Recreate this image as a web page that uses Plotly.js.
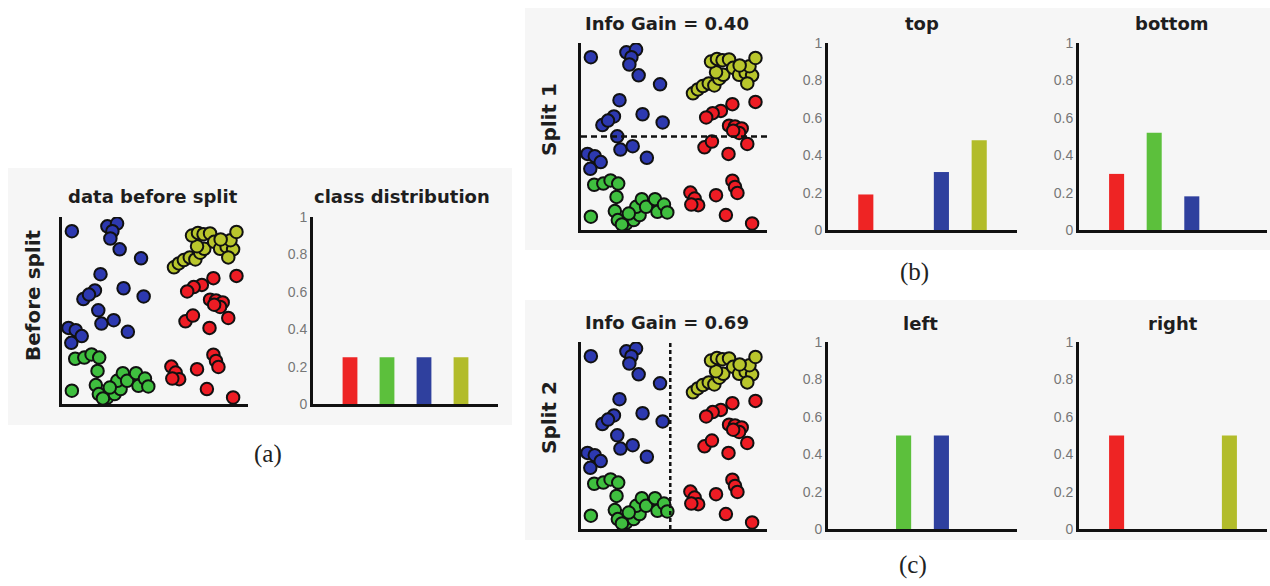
<!DOCTYPE html>
<html>
<head>
<meta charset="utf-8">
<script src="https://cdn.plot.ly/plotly-3.0.1.min.js"></script>
<style>html,body{margin:0;padding:0;background:#fff}#chart{width:1270px;height:586px}</style>
</head>
<body>
<div id="chart"></div>
<script>
// ---- scatter data (same points in all three scatter panels), 0..100 scale ----
const blueX = [5.3,24.4,29.6,27.1,26.0,31.0,42.5,20.7,33.1,43.9,17.7,11.5,14.5,19.5,21.2,27.8,35.4,3.5,7.4,10.6,5.0];
const blueY = [92.4,95.0,96.5,92.4,88.5,82.7,77.9,69.4,61.9,57.5,60.7,56.1,58.5,50.1,43.0,44.8,38.6,40.7,39.5,36.3,32.7];
const greenX = [7.1,12.0,15.9,20.0,19.1,5.3,18.2,19.8,24.4,28.3,31.5,29.7,32.7,35.0,39.8,41.1,44.6,46.4,25.7,22.0];
const greenY = [24.2,24.8,26.5,24.8,17.7,7.1,10.1,5.3,3.5,5.3,8.0,12.4,16.5,12.4,16.5,9.7,13.6,9.4,8.8,3.0];
const yellowX = [60.2,62.8,65.5,68.7,71.7,74.3,76.5,72.6,69.9,73.1,76.1,79.6,81.8,85.0,88.5,92.0,90.6,93.8,89.4,85.3];
const yellowY = [73.1,75.2,77.0,78.4,77.3,80.9,83.0,84.4,90.1,91.5,90.8,91.2,86.7,83.0,84.1,82.7,87.6,92.0,78.4,88.0];
const redX = [93.8,81.4,75.2,70.8,67.3,79.6,82.8,86.4,85.0,81.8,89.4,66.4,70.4,79.3,81.4,82.8,84.1,72.6,58.8,61.1,63.0,59.3,77.9,92.0];
const redY = [68.5,67.3,63.7,62.5,60.2,55.8,55.4,54.3,51.9,53.1,46.0,44.2,47.3,40.7,26.4,23.0,19.8,18.6,20.0,16.8,13.3,13.6,8.0,3.5];

// split thresholds
const split1Y = 50;   // horizontal split (top / bottom)
const split2X = 48;   // vertical split (left / right)

// ---- class distributions ----
const classNames = ['red','green','blue','yellow'];
const classPos = [1,2,3,4];
const distBefore = [0.25,0.25,0.25,0.25];
const distTop    = [0.19,0,0.31,0.48];
const distBottom = [0.30,0.52,0.18,0];
const distLeft   = [0,0.5,0.5,0];
const distRight  = [0.5,0,0,0.5];
const yTicks = [0,0.2,0.4,0.6,0.8,1];
const yTickText = ['0','0.2','0.4','0.6','0.8','1'];

const ptColors = {blue:'#2d39b0', green:'#3fbf3f', yellow:'#b9c62c', red:'#ee1c24'};
const barColors = ['#ee2424','#5cc03c','#2f409e','#b2bc2a'];

const W = 1270, H = 586;
const px = v => v / W;
const py = v => 1 - v / H;

const traces = [];
function scatterSet(xa, ya) {
  const sets = [['blue',blueX,blueY],['green',greenX,greenY],['yellow',yellowX,yellowY],['red',redX,redY]];
  sets.forEach(([c,xs,ys]) => {
    traces.push({type:'scatter', mode:'markers', x:xs, y:ys, xaxis:xa, yaxis:ya,
      marker:{size:12.5, color:ptColors[c], line:{color:'#111', width:2}}, hoverinfo:'skip', showlegend:false});
  });
}
function barSet(xa, ya, vals) {
  traces.push({type:'bar', x:classPos, y:vals, xaxis:xa, yaxis:ya, width:0.4,
    marker:{color:barColors, line:{width:0}}, text:classNames, textposition:'none', hoverinfo:'skip', showlegend:false});
}

scatterSet('x','y');
barSet('x2','y2', distBefore);
scatterSet('x3','y3');
traces.push({type:'scatter', mode:'lines', x:[0,100], y:[split1Y,split1Y], xaxis:'x3', yaxis:'y3',
  line:{color:'#111', width:2.5, dash:'6px,4px'}, hoverinfo:'skip', showlegend:false});
barSet('x4','y4', distTop);
barSet('x5','y5', distBottom);
scatterSet('x6','y6');
traces.push({type:'scatter', mode:'lines', x:[split2X,split2X], y:[0,100], xaxis:'x6', yaxis:'y6',
  line:{color:'#111', width:2.5, dash:'4px,3px'}, hoverinfo:'skip', showlegend:false});
barSet('x7','y7', distLeft);
barSet('x8','y8', distRight);

const base = {showgrid:false, zeroline:false, showline:true, linecolor:'#111', linewidth:3, ticks:'', fixedrange:true};
function scatAxes(n, x0, x1, yTop, yBot) {
  const s = n === 1 ? '' : String(n);
  return {
    ['xaxis'+s]: Object.assign({}, base, {domain:[px(x0),px(x1)], range:[0,100], showticklabels:false, anchor:'y'+s}),
    ['yaxis'+s]: Object.assign({}, base, {domain:[py(yBot),py(yTop)], range:[0,100], showticklabels:false, anchor:'x'+s})
  };
}
function barAxes(n, x0, x1, yTop, yBot) {
  const s = String(n);
  return {
    ['xaxis'+s]: Object.assign({}, base, {domain:[px(x0),px(x1)], range:[0,5], showticklabels:false, anchor:'y'+s}),
    ['yaxis'+s]: Object.assign({}, base, {domain:[py(yBot),py(yTop)], range:[0,1], tickvals:yTicks, ticktext:yTickText,
      tickfont:{family:'Liberation Sans, Arial, sans-serif', size:14, color:'#767676'}, anchor:'x'+s})
  };
}

const layout = Object.assign({
  width:W, height:H, margin:{l:0,r:0,t:0,b:0},
  paper_bgcolor:'#ffffff', plot_bgcolor:'rgba(0,0,0,0)', showlegend:false,
  shapes:[
    {type:'rect', xref:'paper', yref:'paper', x0:px(8), x1:px(512), y0:py(425), y1:py(168), fillcolor:'#f6f6f6', line:{width:0}, layer:'below'},
    {type:'rect', xref:'paper', yref:'paper', x0:px(525), x1:1, y0:py(250), y1:py(8), fillcolor:'#f6f6f6', line:{width:0}, layer:'below'},
    {type:'rect', xref:'paper', yref:'paper', x0:px(525), x1:1, y0:py(540), y1:py(300), fillcolor:'#f6f6f6', line:{width:0}, layer:'below'}
  ],
  annotations:[]
},
  scatAxes(1, 62, 248, 217, 404),
  barAxes(2, 313, 498, 217, 404),
  scatAxes(3, 581, 767, 43, 230),
  barAxes(4, 828, 1017, 43, 230),
  barAxes(5, 1079, 1267, 43, 230),
  scatAxes(6, 581, 767, 342, 529),
  barAxes(7, 828, 1017, 342, 529),
  barAxes(8, 1079, 1267, 342, 529)
);

const titleFont = {family:'DejaVu Sans, Open Sans, sans-serif', size:18, color:'#1e1e1e', weight:700};
function ann(text, x, y, font, angle) {
  layout.annotations.push({text:text, xref:'paper', yref:'paper', x:px(x), y:py(y), xanchor:'center', yanchor:'middle',
    showarrow:false, font:font, textangle:angle || 0});
}
const sideFont = {family:'DejaVu Sans, Open Sans, sans-serif', size:20, color:'#1e1e1e', weight:700};
const capFont = {family:'Liberation Serif, DejaVu Serif, serif', size:25, color:'#222'};

ann('data before split', 153, 196, titleFont);
ann('class distribution', 402, 196, titleFont);
ann('Before split', 33, 295, sideFont, -90);
ann('Info Gain = 0.40', 667, 23, titleFont);
ann('top', 922, 24, titleFont);
ann('bottom', 1172, 24, titleFont);
ann('Split 1', 549, 120, sideFont, -90);
ann('Info Gain = 0.69', 667, 322, titleFont);
ann('left', 920, 323, titleFont);
ann('right', 1173, 323, titleFont);
ann('Split 2', 549, 418, sideFont, -90);
ann('(a)', 268, 454, capFont);
ann('(b)', 914, 272, capFont);
ann('(c)', 913, 565, capFont);

Plotly.newPlot('chart', traces, layout, {staticPlot:true, displayModeBar:false});
</script>
</body>
</html>
